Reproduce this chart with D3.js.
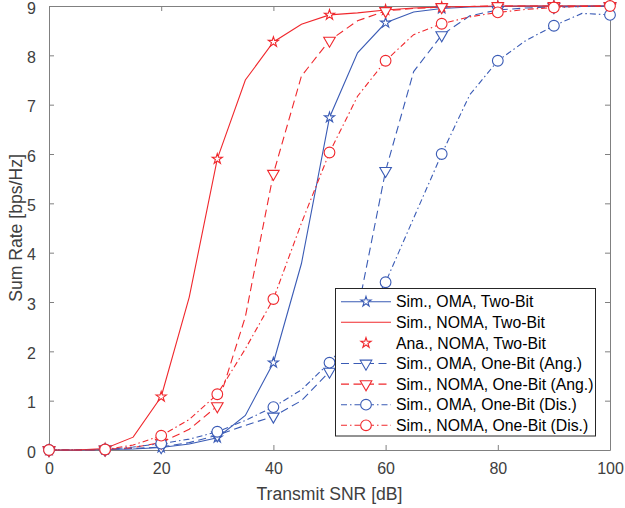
<!DOCTYPE html>
<html>
<head>
<meta charset="utf-8">
<script src="https://cdn.jsdelivr.net/npm/d3@7"></script>
<style>
  body { margin: 0; background: #fff; }
  svg { font-family: "Liberation Sans", Arial, sans-serif; }
</style>
</head>
<body>
<svg id="chart" width="625" height="508"></svg>
<script>
// SNR grid of the curves (5 dB) and of the markers (10 dB)
const snr = [0, 5, 10, 15, 20, 25, 30, 35, 40, 45, 50, 55, 60, 65, 70, 75, 80, 85, 90, 95, 100];
const snrMarks = [0, 10, 20, 30, 40, 50, 60, 70, 80, 90, 100];

const simOmaTwoBit = [0, 0, 0.01, 0.02, 0.05, 0.12, 0.25, 0.7, 1.77, 3.78, 6.74, 8.05, 8.66, 8.88, 8.95, 8.98, 8.99, 9.0, 9.0, 9.0, 9.0];
const simNomaTwoBit = [0, 0, 0.03, 0.26, 1.08, 3.1, 5.9, 7.5, 8.27, 8.63, 8.82, 8.86, 8.92, 8.96, 8.98, 8.99, 9.0, 9.0, 9.0, 9.0, 9.0];
const anaNomaTwoBit = [0, 0.03, 1.08, 5.9, 8.27, 8.82, 8.92, 8.98, 9.0, 9.0, 9.0];
const simOmaOneBitAng = [0, 0, 0.01, 0.03, 0.06, 0.15, 0.3, 0.5, 0.68, 1.0, 1.59, 2.8, 5.66, 7.67, 8.41, 8.8, 8.92, 8.96, 8.98, 8.99, 9.0];
const simNomaOneBitAng = [0, 0, 0.01, 0.05, 0.15, 0.42, 0.89, 2.7, 5.6, 7.58, 8.3, 8.7, 8.9, 8.95, 8.98, 8.99, 9.0, 9.0, 9.0, 9.0, 9.0];
const simOmaOneBitDis = [0, 0, 0.01, 0.06, 0.13, 0.22, 0.37, 0.6, 0.87, 1.22, 1.77, 2.45, 3.4, 4.7, 6.0, 7.2, 7.89, 8.3, 8.6, 8.85, 8.82];
const simNomaOneBitDis = [0, 0, 0.01, 0.1, 0.29, 0.62, 1.13, 2.05, 3.06, 4.6, 6.03, 7.17, 7.89, 8.42, 8.64, 8.78, 8.87, 8.93, 8.97, 8.99, 9.0];

const xTicks = [0, 20, 40, 60, 80, 100];
const yTicks = [0, 1, 2, 3, 4, 5, 6, 7, 8, 9];

const blue = "#3a5bb5", red = "#f0282d";

const series = [
    { name: "Sim., OMA, Two-Bit", xs: snr, ys: simOmaTwoBit, color: blue, dash: null, marker: "star" },
    { name: "Sim., NOMA, Two-Bit", xs: snr, ys: simNomaTwoBit, color: red, dash: null, marker: null },
    { name: "Ana., NOMA, Two-Bit", xs: snrMarks, ys: anaNomaTwoBit, color: red, dash: "none", marker: "star" },
    { name: "Sim., OMA, One-Bit (Ang.)", xs: snr, ys: simOmaOneBitAng, color: blue, dash: "8,4.5", marker: "tri" },
    { name: "Sim., NOMA, One-Bit (Ang.)", xs: snr, ys: simNomaOneBitAng, color: red, dash: "8,4.5", marker: "tri" },
    { name: "Sim., OMA, One-Bit (Dis.)", xs: snr, ys: simOmaOneBitDis, color: blue, dash: "6,3,1.5,3", marker: "circle" },
    { name: "Sim., NOMA, One-Bit (Dis.)", xs: snr, ys: simNomaOneBitDis, color: red, dash: "6,3,1.5,3", marker: "circle" }
];

const margin = { top: 6, right: 15, bottom: 58, left: 49 },
    width = 625 - margin.left - margin.right,
    height = 508 - margin.top - margin.bottom;

const svg = d3.select("#chart")
    .append("g")
    .attr("transform", "translate(" + margin.left + "," + margin.top + ")");

const x = d3.scaleLinear().domain([0, 100]).range([0, width]);
const y = d3.scaleLinear().domain([0, 9]).range([height, 0]);

const axisColor = "#808080", textColor = "#404040";

// axes with inward ticks on all four sides
const styleAxis = g => {
    g.select(".domain").attr("stroke", axisColor);
    g.selectAll(".tick line").attr("stroke", axisColor);
    g.selectAll(".tick text").attr("fill", textColor).attr("font-size", "16px");
};

svg.append("g")
    .attr("transform", "translate(0," + height + ")")
    .call(d3.axisBottom(x).tickValues(xTicks).tickSizeInner(-5).tickSizeOuter(0).tickPadding(13))
    .call(styleAxis);
svg.append("g")
    .call(d3.axisTop(x).tickValues(xTicks).tickSizeInner(-5).tickSizeOuter(0).tickFormat(""))
    .call(styleAxis);
svg.append("g")
    .call(d3.axisLeft(y).tickValues(yTicks).tickSizeInner(-5).tickSizeOuter(0).tickPadding(13))
    .call(styleAxis)
    .selectAll(".tick text")
    .attr("dy", "0.45em");
svg.append("g")
    .attr("transform", "translate(" + width + ",0)")
    .call(d3.axisRight(y).tickValues(yTicks).tickSizeInner(-5).tickSizeOuter(0).tickFormat(""))
    .call(styleAxis);

svg.append("text")
    .attr("x", width / 2)
    .attr("y", height + 50)
    .attr("text-anchor", "middle")
    .attr("font-size", "17.6px")
    .attr("fill", textColor)
    .text("Transmit SNR [dB]");

svg.append("text")
    .attr("transform", "translate(-27," + (height / 2) + ") rotate(-90)")
    .attr("text-anchor", "middle")
    .attr("font-size", "17.6px")
    .attr("fill", textColor)
    .text("Sum Rate [bps/Hz]");

const symbolPath = {
    star: d3.symbol().type(d3.symbolStar).size(32)(),
    tri: d3.symbol().type(d3.symbolTriangle).size(58)(),
    circle: d3.symbol().type(d3.symbolCircle).size(90)()
};
const markerTransform = (m, px, py) =>
    "translate(" + px + "," + py + ")" + (m === "tri" ? " rotate(180)" : "");

const line = d3.line()
    .x(d => x(d[0]))
    .y(d => y(d[1]));

// Lines
series.forEach(s => {
    if (s.dash === "none") return;
    svg.append("path")
        .datum(s.xs.map((v, i) => [v, s.ys[i]]))
        .attr("fill", "none")
        .attr("stroke", s.color)
        .attr("stroke-width", 1.1)
        .attr("stroke-dasharray", s.dash)
        .attr("d", line);
});

// Markers every 10 dB
series.forEach(s => {
    if (!s.marker) return;
    const pts = s.xs.map((v, i) => [v, s.ys[i]]).filter(d => d[0] % 10 === 0);
    svg.selectAll(null)
        .data(pts)
        .enter()
        .append("path")
        .attr("d", symbolPath[s.marker])
        .attr("transform", d => markerTransform(s.marker, x(d[0]), y(d[1])))
        .attr("fill", "#fff")
        .attr("stroke", s.color)
        .attr("stroke-width", 1.1);
});

// Legend
const lg = d3.select("#chart").append("g");
lg.append("rect")
    .attr("x", 335.5).attr("y", 288.5)
    .attr("width", 260).attr("height", 147.5)
    .attr("fill", "#fff")
    .attr("stroke", "#262626")
    .attr("stroke-width", 1);

series.forEach((s, i) => {
    const cy = 301.7 + i * 20.6;
    if (s.dash !== "none") {
        lg.append("line")
            .attr("x1", 341).attr("x2", 391)
            .attr("y1", cy).attr("y2", cy)
            .attr("stroke", s.color)
            .attr("stroke-width", 1.1)
            .attr("stroke-dasharray", s.dash);
    }
    if (s.marker) {
        lg.append("path")
            .attr("d", symbolPath[s.marker])
            .attr("transform", markerTransform(s.marker, 366, cy))
            .attr("fill", "#fff")
            .attr("stroke", s.color)
            .attr("stroke-width", 1.1);
    }
    lg.append("text")
        .attr("x", 396)
        .attr("y", cy + 5.6)
        .attr("font-size", "15.8px")
        .attr("fill", "#000")
        .text(s.name);
});
</script>
</body>
</html>
